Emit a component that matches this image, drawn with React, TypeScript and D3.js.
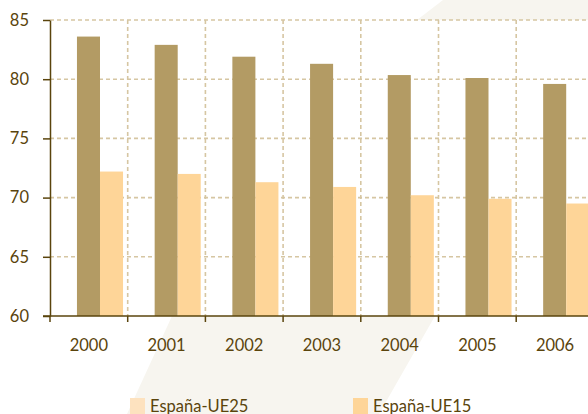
import { useEffect, useRef } from 'react';
import * as d3 from 'd3';

const years = ['2000', '2001', '2002', '2003', '2004', '2005', '2006'];
const darkValues = [83.6, 82.9, 81.9, 81.3, 80.35, 80.1, 79.6];
const lightValues = [72.2, 72.0, 71.3, 70.9, 70.2, 69.9, 69.5];
const yTicks = [60, 65, 70, 75, 80, 85];
const legendLabels = ['España-UE25', 'España-UE15'];

const W = 588;
const H = 414;
const TEXT = '#5a440c';
const GRID = '#d6c6a2';
const BAND = '#f7f5ef';
const FONT = 'Lato, "Open Sans", sans-serif';

export default function App() {
  const svgRef = useRef<SVGSVGElement>(null);

  useEffect(() => {
    document.body.style.margin = '0';
    const svg = d3.select(svgRef.current);
    svg.selectAll('*').remove();

    const left = 50;
    const top = 20;
    const bottom = 316;
    const step = 77.7;

    const x = d3
      .scaleBand<string>()
      .domain(years)
      .range([left, left + step * years.length])
      .padding(0);
    const x1 = d3
      .scaleBand<string>()
      .domain(['dark', 'light'])
      .range([x.bandwidth() * 0.347, x.bandwidth() * 0.94])
      .padding(0);
    const y = d3.scaleLinear().domain([60, 85]).range([bottom, top]);

    // faint diagonal decoration behind the chart
    svg
      .append('path')
      .attr('d', 'M443,0 L588,0 L588,20 L417,20 Z')
      .attr('fill', BAND);
    svg
      .append('path')
      .attr('d', 'M172,316 L435,316 L379,414 L127,414 Z')
      .attr('fill', BAND);

    // gridlines
    const boundaries = years.map((d) => x(d) as number);
    svg
      .append('g')
      .selectAll('line')
      .data(yTicks.filter((t) => t > 60))
      .join('line')
      .attr('x1', left)
      .attr('x2', W)
      .attr('y1', (d) => y(d))
      .attr('y2', (d) => y(d))
      .attr('stroke', GRID)
      .attr('stroke-width', 1.6)
      .attr('stroke-dasharray', '4,3');
    svg
      .append('g')
      .selectAll('line')
      .data(boundaries.slice(1))
      .join('line')
      .attr('x1', (d) => d)
      .attr('x2', (d) => d)
      .attr('y1', top)
      .attr('y2', bottom)
      .attr('stroke', GRID)
      .attr('stroke-width', 1.6)
      .attr('stroke-dasharray', '4,3');

    // bars
    const groups = svg
      .append('g')
      .selectAll('g')
      .data(years)
      .join('g')
      .attr('transform', (d) => `translate(${x(d)},0)`);
    groups
      .append('rect')
      .attr('x', x1('dark') as number)
      .attr('width', x1.bandwidth())
      .attr('y', (_, i) => y(darkValues[i]))
      .attr('height', (_, i) => bottom - y(darkValues[i]))
      .attr('fill', '#b39b64');
    groups
      .append('rect')
      .attr('x', x1('light') as number)
      .attr('width', x1.bandwidth())
      .attr('y', (_, i) => y(lightValues[i]))
      .attr('height', (_, i) => bottom - y(lightValues[i]))
      .attr('fill', '#fed598');

    // y axis
    const yAxis = svg
      .append('g')
      .attr('transform', `translate(${left},0)`)
      .call(d3.axisLeft(y).tickValues(yTicks).tickSize(7).tickPadding(14).tickSizeOuter(0));
    yAxis.select('.domain').attr('stroke', TEXT).attr('stroke-width', 1.5);
    yAxis.selectAll('.tick line').attr('stroke', TEXT).attr('stroke-width', 1.5);
    yAxis
      .selectAll('.tick text')
      .attr('fill', TEXT)
      .attr('font-family', FONT)
      .attr('font-size', 16.5);

    // x axis
    svg
      .append('line')
      .attr('x1', left - 7)
      .attr('x2', W)
      .attr('y1', bottom)
      .attr('y2', bottom)
      .attr('stroke', TEXT)
      .attr('stroke-width', 1.5);
    svg
      .append('g')
      .selectAll('line')
      .data(boundaries)
      .join('line')
      .attr('x1', (d) => d)
      .attr('x2', (d) => d)
      .attr('y1', bottom)
      .attr('y2', bottom + 6)
      .attr('stroke', TEXT)
      .attr('stroke-width', 1.5);
    svg
      .append('g')
      .selectAll('text')
      .data(years)
      .join('text')
      .attr('x', (d) => (x(d) as number) + x.bandwidth() / 2)
      .attr('y', 351)
      .attr('text-anchor', 'middle')
      .attr('fill', TEXT)
      .attr('font-family', FONT)
      .attr('font-size', 16.5)
      .text((d) => d);

    // legend (cut by the bottom edge, as in the source)
    const legendX = [130, 353];
    const legendColors = ['#fde2bf', '#fed598'];
    const legend = svg
      .append('g')
      .selectAll('g')
      .data(legendLabels)
      .join('g')
      .attr('transform', (_, i) => `translate(${legendX[i]},398)`);
    legend
      .append('rect')
      .attr('width', 15)
      .attr('height', 16)
      .attr('fill', (_, i) => legendColors[i]);
    legend
      .append('text')
      .attr('x', 20)
      .attr('y', 14)
      .attr('fill', TEXT)
      .attr('font-family', FONT)
      .attr('font-size', 16.5)
      .text((d) => d);
  }, []);

  return (
    <svg
      ref={svgRef}
      width={W}
      height={H}
      style={{ position: 'absolute', left: 0, top: 0, display: 'block', background: '#fff' }}
    />
  );
}
